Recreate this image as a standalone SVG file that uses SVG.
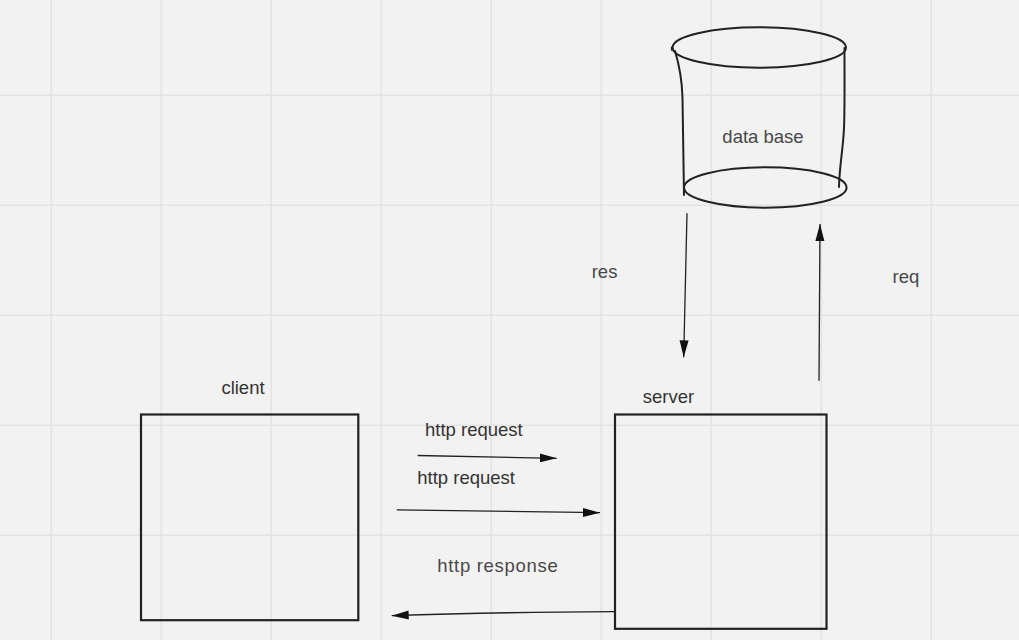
<svg xmlns="http://www.w3.org/2000/svg" width="1019" height="640" viewBox="0 0 1019 640">
<defs>
<style>
.grid{stroke:#e3e3e3;stroke-width:1.5;fill:none}
.box{fill:none;stroke:#222;stroke-width:2.2}
.sk{fill:none;stroke:#222;stroke-width:2;stroke-linecap:round;stroke-linejoin:round}
.lbl{font-family:"Liberation Sans",Arial,sans-serif;font-size:18.5px;fill:#333}
.lbl2{fill:#484848}
.conn{fill:none;stroke:#222;stroke-width:1.3}
</style>
<marker id="ah" markerUnits="userSpaceOnUse" markerWidth="18" markerHeight="10" refX="17" refY="5" orient="auto">
<path d="M0,0.5 L17,5 L0,9.5 Z" fill="#111"/>
</marker>
</defs>
<rect width="1019" height="640" fill="#f2f2f2"/>
<g id="grid" class="grid">
<path d="M51.3,0V640M161.3,0V640M271.3,0V640M381.3,0V640M491.3,0V640M601.3,0V640M711.3,0V640M821.3,0V640M931.3,0V640"/>
<path d="M0,95.3H1019M0,205.3H1019M0,315.3H1019M0,425.3H1019M0,535.3H1019"/>
</g>
<g id="database">
<path class="sk" d="M675,51 C679,64 682,80 682.5,98 C683,130 683.5,165 684,195"/>
<path class="sk" d="M844.5,48 C844.5,80 844.8,110 844,128 C843,150 839.5,165 839,187"/>
<path class="sk" style="stroke-width:1.2" d="M671.5,47 C671,48.5 671.5,50 672,50.5"/>
<ellipse class="sk" cx="759.3" cy="47.5" rx="86.7" ry="20.2"/>
<ellipse class="sk" cx="765.3" cy="187.5" rx="81.3" ry="20.2"/>
<text class="lbl lbl2" x="763" y="142.5" text-anchor="middle">data base</text>
</g>
<g id="client">
<rect class="box" x="141" y="414.5" width="217.3" height="205.7"/>
<text class="lbl" x="243" y="394" text-anchor="middle">client</text>
</g>
<g id="server">
<rect class="box" x="615" y="414.5" width="211.5" height="214.3"/>
<text class="lbl" x="668.5" y="403.3" text-anchor="middle">server</text>
</g>
<g id="connectors">
<path class="conn" d="M687,213.3 L683.7,357.3" marker-end="url(#ah)"/>
<path class="conn" d="M819,380.7 L820,224" marker-end="url(#ah)"/>
<path class="conn" d="M417.7,455.5 L556.7,458.3" marker-end="url(#ah)"/>
<path class="conn" d="M396.7,509.8 L600,512.7" marker-end="url(#ah)"/>
<path class="conn" d="M614,611.7 C540,612 470,613 391.7,615.7" marker-end="url(#ah)"/>
</g>
<g id="labels">
<text class="lbl lbl2" x="591.7" y="277.7">res</text>
<text class="lbl lbl2" x="892.5" y="283.3">req</text>
<text class="lbl" x="425" y="436">http request</text>
<text class="lbl" x="417.3" y="484">http request</text>
<text class="lbl lbl2" x="437.3" y="571.7" textLength="120.4">http response</text>
</g>
</svg>
